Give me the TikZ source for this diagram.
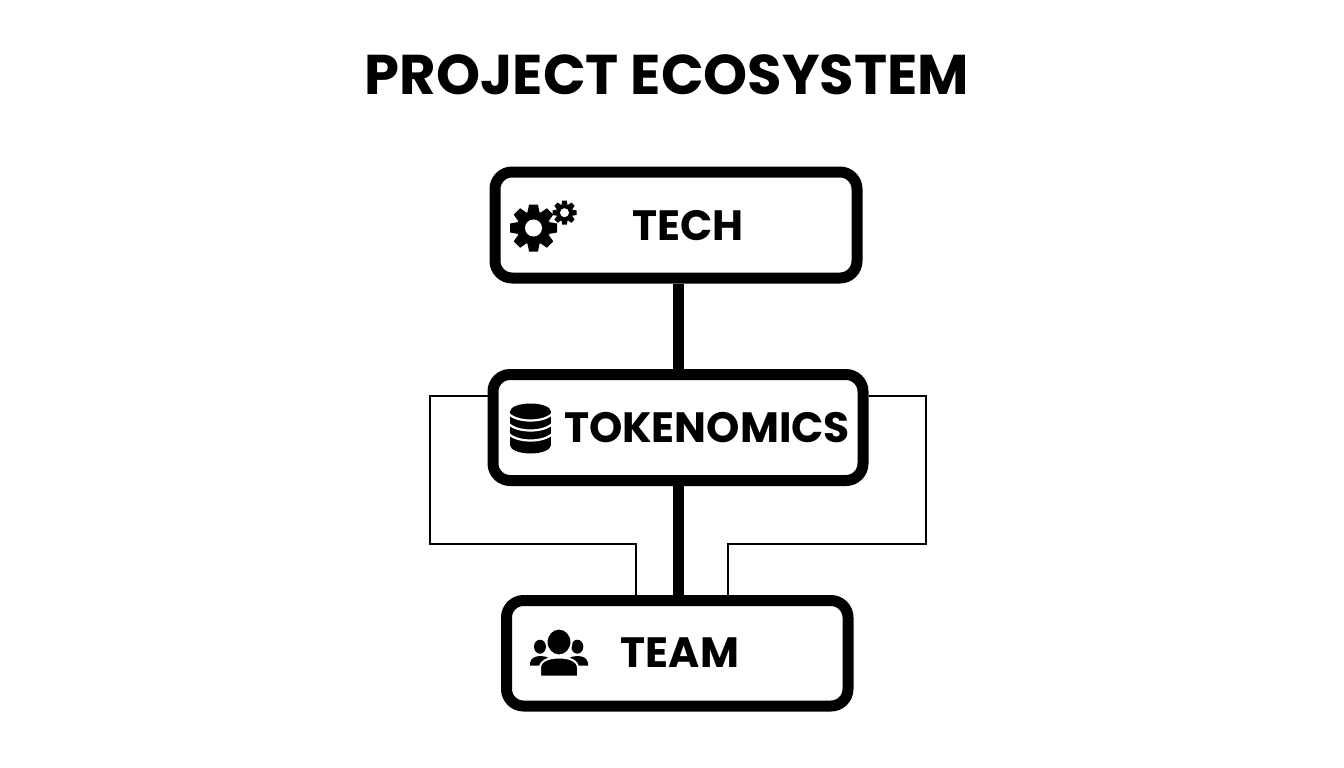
\documentclass[tikz,border=0pt]{standalone}
\usepackage{fontspec}
\setmainfont{Poppins}[BoldFont={Poppins Bold}]
\tikzset{
  boxnode/.style={draw=black,line width=11pt,rounded corners=17pt,fill=white,inner sep=0pt},
  boxlabel/.style={font=\fontsize{42.4}{42.4}\selectfont\bfseries,inner sep=0pt},
  mainlink/.style={draw=black,line width=11pt},
  sidelink/.style={draw=black,line width=2pt,line join=miter}
}
\newcommand{\gearicon}[4]{% x, y, outer radius, hole radius
  \fill[black] (#1,#2) circle ({0.72*#3});
  \foreach \a in {0,45,...,315}
    \fill[black,shift={(#1,#2)},rotate=\a] (-0.25*#3,-0.68*#3) -- (-0.19*#3,-#3) -- (0.19*#3,-#3) -- (0.25*#3,-0.68*#3) -- cycle;
  \fill[white] (#1,#2) circle (#4);
}
\begin{document}
\begin{tikzpicture}[x=1pt,y=-1pt]
\useasboundingbox (0,0) rectangle (1344,768);
\node[font=\fontsize{56}{56}\selectfont\bfseries,inner sep=0pt] (title) at (667,75) {PROJECT ECOSYSTEM};
% boxes
\node[boxnode,minimum width=362pt,minimum height=106pt] (tech) at (676,225) {};
\node[boxnode,minimum width=370pt,minimum height=106pt] (tokenomics) at (678,427.5) {};
\node[boxnode,minimum width=341.5pt,minimum height=105.5pt] (team) at (677.25,653.25) {};
% links
\draw[mainlink] (tech.south -| 678,0) -- (tokenomics.north -| 678,0);
\draw[mainlink] (tokenomics.south -| 678,0) -- (team.north -| 678,0);
\coordinate (leftTop) at (430,395.5);
\coordinate (leftMid) at (430,543.5);
\coordinate (leftEnd) at (636,543.5);
\coordinate (rightTop) at (926,395.5);
\coordinate (rightMid) at (926,543.5);
\coordinate (rightEnd) at (727.5,543.5);
\draw[sidelink] (tokenomics.west |- leftTop) -- (leftTop) -- (leftMid) -- (leftEnd) -- (leftEnd |- team.north);
\draw[sidelink] (tokenomics.east |- rightTop) -- (rightTop) -- (rightMid) -- (rightEnd) -- (rightEnd |- team.north);
% labels
\node[boxlabel] (techLabel) at (688,226) {TECH};
\node[boxlabel] (tokenomicsLabel) at (707,428) {TOKENOMICS};
\node[boxlabel] (teamLabel) at (680,652.5) {TEAM};
% gears
\gearicon{533.5}{228}{23.5}{8.5}
\gearicon{564.5}{212.7}{12}{4.5}
% coins
\fill[black] (510,411.5) rectangle (551,445);
\fill[black] (530.5,411.5) ellipse[x radius=20.5,y radius=8];
\fill[black] (530.5,445) ellipse[x radius=20.5,y radius=8.5];
\foreach \h in {412,422,432}
  \draw[white,line width=2.2pt] (508,\h+1) .. controls (516,\h+11) and (545,\h+11) .. (553,\h+1);
% people
\fill[black] (540,646.7) ellipse[x radius=6,y radius=7];
\fill[black] (577.3,646.7) ellipse[x radius=6,y radius=7];
\fill[black] (530,665.7) -- (530,663) .. controls (531,658) and (535,656) .. (541,656) .. controls (547,656) and (555,660) .. (555,665.7) -- cycle;
\fill[black] (588,665.7) -- (588,663) .. controls (587,658) and (583,656) .. (577,656) .. controls (571,656) and (563,660) .. (563,665.7) -- cycle;
\fill[black,draw=white,line width=2pt] (540,676.5) -- (540,668) .. controls (540,661) and (548,657.5) .. (559,657.5) .. controls (570,657.5) and (578,661) .. (578,668) -- (578,676.5) -- cycle;
\fill[black,draw=white,line width=2pt] (559,642) ellipse[x radius=12.5,y radius=13.5];
\end{tikzpicture}
\end{document}
